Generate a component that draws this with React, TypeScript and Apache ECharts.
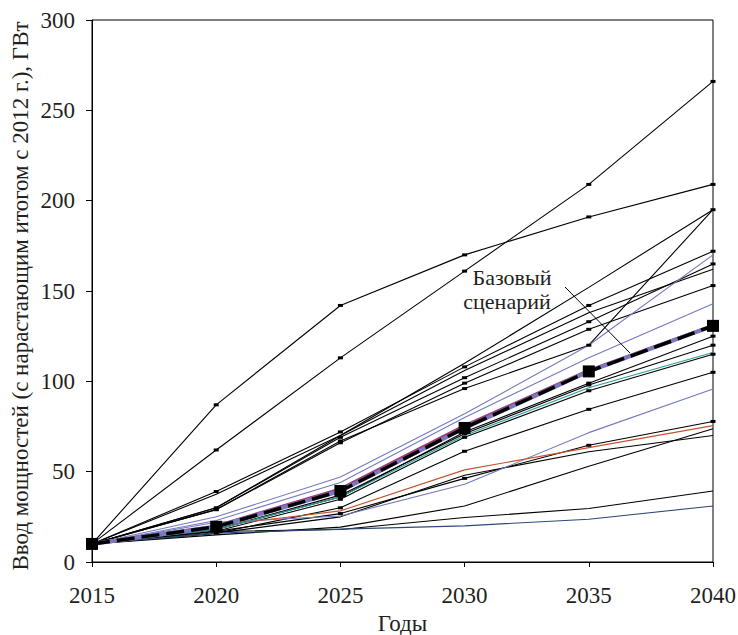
import React, { useEffect, useRef } from "react";
import * as echarts from "echarts";

// Годы прогноза
const years = [2015, 2020, 2025, 2030, 2035, 2040];

// Сценарии (ГВт, нарастающим итогом) — чёрные линии с маркерами
const scA = [10, 87, 142, 170, 191, 209];
const scB = [10, 62, 113, 161, 209, 266];
const scD = [10, 29, 67, 96, 120, 195];
const scE = [10, 39, 72, 108, 142, 172];
const scG = [10, 30, 69, 102, 133, 165];
const scH = [10, 29, 66, 99, 128.8, 153];
const scI = [10, 18, 36, 72, 99, 125];
const scJ = [10, 18, 37, 71, 98, 120];
const scK = [10, 17, 34.7, 69, 94.8, 115];
const scL = [10, 16, 30, 61.3, 84.5, 105];
const scM = [10, 17, 26.8, 46.3, 64.6, 77.8];

// Чёрные линии без маркеров
const scC = [10, 30, 70, 110, 152, 195];
const scF = [10, 37.5, 70, 106, 138, 162];
const scN = [10, 16, 25, 48, 61, 70];
const scO = [10, 15, 19.3, 31, 53, 73.8];
const scP = [10, 17, 18, 24.6, 29.6, 39.3];

// Цветные сценарии
const blue1 = [10, 25, 47, 82, 120, 170];
const blue2 = [10, 23, 44, 80, 113, 143];
const blue3 = [10, 22, 25.5, 43, 71.6, 95.7];
const red1 = [10, 20, 28.3, 51, 63.3, 75.5];
const teal1 = [10, 18, 36, 70, 96.4, 116];
const navy1 = [10, 16, 18.2, 20, 23.7, 31];
const magenta1 = [10, 20, 40.5, 75.5, 106, 131];

// Базовый сценарий
const base = [10, 19.5, 39.3, 74.2, 105.5, 130.7];

const yTicks = [0, 50, 100, 150, 200, 250, 300];

const FONT = "Liberation Serif";
const INK = "#231f20";
const FS = 23;

const pts = (vals: number[]) => years.map((y, i) => [y, vals[i]]);

function thin(name: string, vals: number[], color: string, marker: boolean) {
  return {
    name,
    type: "line",
    data: pts(vals),
    symbol: marker ? "rect" : "none",
    symbolSize: [5, 3],
    showSymbol: marker,
    itemStyle: { color: "#000" },
    lineStyle: { color, width: 1.1 },
    z: 2,
    silent: true,
  };
}

export default function App() {
  const ref = useRef<HTMLDivElement>(null);

  useEffect(() => {
    if (!ref.current) return;
    const chart = echarts.init(ref.current, null, { renderer: "svg" });

    const marked: [string, number[]][] = [
      ["A", scA], ["B", scB], ["D", scD], ["E", scE], ["G", scG], ["H", scH],
      ["I", scI], ["J", scJ], ["K", scK], ["L", scL], ["M", scM],
    ];
    const plain: [string, number[]][] = [
      ["C", scC], ["F", scF], ["N", scN], ["O", scO], ["P", scP],
    ];

    const series: any[] = [
      ...plain.map(([n, v]) => thin(n, v, "#000", false)),
      ...marked.map(([n, v]) => thin(n, v, "#000", true)),
      thin("blue1", blue1, "#7479bd", false),
      thin("blue2", blue2, "#7479bd", false),
      thin("blue3", blue3, "#7479bd", false),
      thin("red1", red1, "#c6532e", false),
      thin("teal1", teal1, "#2a9e9a", false),
      thin("navy1", navy1, "#2b4a7a", false),
      {
        name: "magenta",
        type: "line",
        data: pts(magenta1),
        symbol: "none",
        lineStyle: { color: "#a33a78", width: 3 },
        z: 3,
        silent: true,
      },
      {
        name: "purple",
        type: "line",
        data: pts(base),
        symbol: "none",
        lineStyle: { color: "#7b78bf", width: 4 },
        z: 4,
        silent: true,
      },
      {
        name: "Базовый сценарий",
        type: "line",
        data: pts(base),
        symbol: "rect",
        symbolSize: 12,
        itemStyle: { color: "#000" },
        lineStyle: { color: "#000", width: 3.5, type: [18, 7] },
        z: 5,
        silent: true,
      },
    ];

    const labelText = (text: string, x: number, y: number) => ({
      type: "text",
      x,
      y,
      style: {
        text,
        fontFamily: FONT,
        fontSize: 22,
        fill: INK,
        align: "center",
        verticalAlign: "middle",
      },
      z: 10,
    });

    chart.setOption({
      animation: false,
      backgroundColor: "#fff",
      textStyle: { fontFamily: FONT },
      grid: {
        left: 92,
        right: 25,
        top: 20,
        bottom: 73,
        containLabel: false,
        outerBoundsMode: "none",
        show: true,
        borderColor: "#000",
        borderWidth: 1,
      },
      xAxis: {
        type: "value",
        min: 2015,
        max: 2040,
        interval: 5,
        name: "Годы",
        nameLocation: "middle",
        nameGap: 48,
        nameTextStyle: { fontFamily: FONT, fontSize: FS, color: INK },
        axisLine: { show: true, lineStyle: { color: "#000", width: 1 } },
        axisTick: { show: true, length: 5, lineStyle: { color: "#000" } },
        axisLabel: {
          fontFamily: FONT,
          fontSize: FS,
          color: INK,
          margin: 22,
          formatter: (v: number) => String(v),
        },
        splitLine: { show: false },
      },
      yAxis: {
        type: "value",
        min: 0,
        max: 300,
        interval: 50,
        axisLine: { show: true, lineStyle: { color: "#000", width: 1 } },
        axisTick: { show: true, length: 6, lineStyle: { color: "#000" } },
        axisLabel: {
          fontFamily: FONT,
          fontSize: FS,
          color: INK,
          margin: 17,
          formatter: (v: number) => (yTicks.includes(v) ? String(v) : ""),
        },
        splitLine: { show: false },
      },
      graphic: [
        {
          type: "text",
          x: 20,
          y: 296,
          rotation: Math.PI / 2,
          style: {
            text: "Ввод мощностей (с нарастающим итогом с 2012 г.), ГВт",
            fontFamily: FONT,
            fontSize: FS,
            fill: INK,
            align: "center",
            verticalAlign: "middle",
          },
        },
        labelText("Базовый", 512, 277),
        labelText("сценарий", 507, 301),
        {
          type: "line",
          shape: { x1: 565, y1: 287, x2: 630, y2: 353 },
          style: { stroke: "#000", lineWidth: 1 },
          z: 10,
        },
      ],
      series,
    });

    return () => chart.dispose();
  }, []);

  return (
    <div
      ref={ref}
      style={{ position: "fixed", left: 0, top: 0, width: 738, height: 635 }}
    />
  );
}
